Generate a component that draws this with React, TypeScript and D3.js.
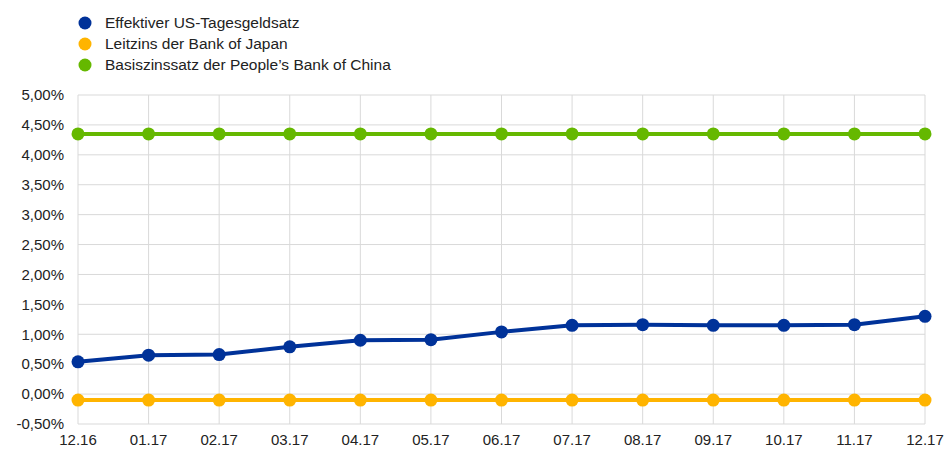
import React from 'react';
import * as d3 from 'd3';

const categories = ['12.16', '01.17', '02.17', '03.17', '04.17', '05.17', '06.17', '07.17', '08.17', '09.17', '10.17', '11.17', '12.17'];
const usRate = [0.54, 0.65, 0.66, 0.79, 0.90, 0.91, 1.04, 1.15, 1.16, 1.15, 1.15, 1.16, 1.30];
const japanRate = [-0.10, -0.10, -0.10, -0.10, -0.10, -0.10, -0.10, -0.10, -0.10, -0.10, -0.10, -0.10, -0.10];
const chinaRate = [4.35, 4.35, 4.35, 4.35, 4.35, 4.35, 4.35, 4.35, 4.35, 4.35, 4.35, 4.35, 4.35];
const yTicks = [-0.5, 0, 0.5, 1, 1.5, 2, 2.5, 3, 3.5, 4, 4.5, 5];

const series = [
  { name: 'Effektiver US-Tagesgeldsatz', values: usRate, color: '#003299' },
  { name: 'Leitzins der Bank of Japan', values: japanRate, color: '#ffb400' },
  { name: 'Basiszinssatz der People\u2019s Bank of China', values: chinaRate, color: '#65b800' },
];

const width = 946;
const height = 450;
const margin = { top: 95, right: 21, bottom: 26, left: 78 };
const font = '"Liberation Sans", Arial, sans-serif';

const fmt = (v: number) => v.toFixed(2).replace('.', ',') + '%';

export default function App() {
  const x = d3.scalePoint<string>()
    .domain(categories)
    .range([margin.left, width - margin.right]);
  const y = d3.scaleLinear()
    .domain([-0.5, 5])
    .range([height - margin.bottom, margin.top]);

  const line = d3.line<number>()
    .x((_, i) => x(categories[i]) as number)
    .y(d => y(d));

  // draw order: japan, us, china so markers overlap like the original
  const drawOrder = [series[1], series[0], series[2]];

  return (
    <svg width={width} height={height} style={{ position: 'absolute', left: 0, top: 0, fontFamily: font }}>
      <rect width={width} height={height} fill="#fff" />
      {yTicks.map(t => (
        <line key={'h' + t} x1={margin.left} x2={width - margin.right} y1={y(t)} y2={y(t)} stroke="#d9d9d9" strokeWidth={1} />
      ))}
      {categories.map(c => (
        <line key={'v' + c} x1={x(c)} x2={x(c)} y1={margin.top} y2={height - margin.bottom} stroke="#d9d9d9" strokeWidth={1} />
      ))}
      {yTicks.map(t => (
        <text key={'yl' + t} x={margin.left - 14} y={y(t)} dy="0.35em" textAnchor="end" fontSize={15} fill="#222">
          {fmt(t)}
        </text>
      ))}
      {categories.map(c => (
        <text key={'xl' + c} x={x(c)} y={height - margin.bottom + 21} textAnchor="middle" fontSize={15} fill="#222">
          {c}
        </text>
      ))}
      {drawOrder.map(s => (
        <g key={s.name}>
          <path d={line(s.values) || ''} fill="none" stroke={s.color} strokeWidth={4} />
          {s.values.map((v, i) => (
            <circle key={i} cx={x(categories[i])} cy={y(v)} r={6.5} fill={s.color} />
          ))}
        </g>
      ))}
      {series.map((s, i) => (
        <g key={'lg' + s.name} transform={`translate(85, ${23 + i * 21})`}>
          <circle cx={0} cy={0} r={6.5} fill={s.color} />
          <text x={20} y={0} dy="0.35em" fontSize={15.5} fill="#222">{s.name}</text>
        </g>
      ))}
    </svg>
  );
}
